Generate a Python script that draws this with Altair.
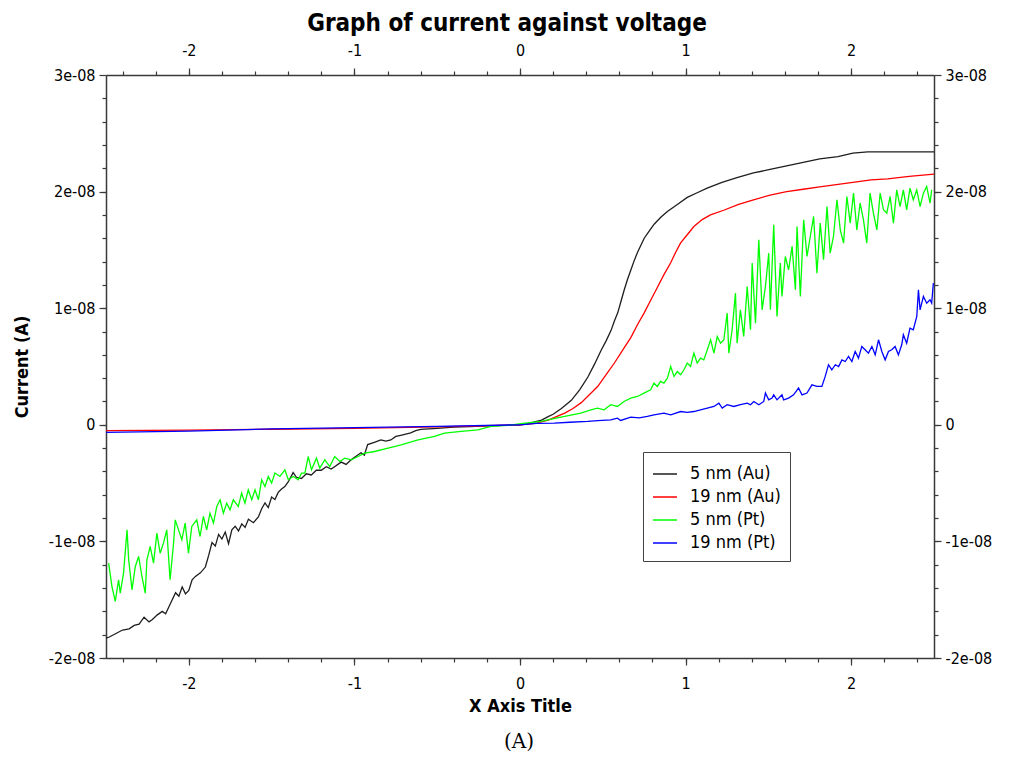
import altair as alt
import pandas as pd

# ---------------- data (voltage V, current in units of 1e-8 A) ----------------
au_5nm = [
    (-2.50, -1.83), (-2.48, -1.82), (-2.44, -1.79), (-2.40, -1.76), (-2.36, -1.75), (-2.33, -1.72),
    (-2.30, -1.71), (-2.27, -1.65), (-2.24, -1.69), (-2.22, -1.67), (-2.19, -1.63), (-2.16, -1.60),
    (-2.14, -1.62), (-2.12, -1.56), (-2.10, -1.50), (-2.08, -1.44), (-2.06, -1.47), (-2.04, -1.39),
    (-2.02, -1.45), (-2.00, -1.42), (-1.98, -1.33), (-1.96, -1.30), (-1.93, -1.27), (-1.90, -1.22),
    (-1.88, -1.12), (-1.86, -1.01), (-1.84, -1.04), (-1.82, -0.94), (-1.80, -0.98), (-1.78, -0.92),
    (-1.76, -1.02), (-1.74, -0.90), (-1.72, -0.87), (-1.70, -0.91), (-1.68, -0.85), (-1.66, -0.88),
    (-1.64, -0.81), (-1.61, -0.84), (-1.58, -0.79), (-1.56, -0.72), (-1.54, -0.67), (-1.52, -0.71),
    (-1.50, -0.62), (-1.48, -0.64), (-1.46, -0.58), (-1.44, -0.55), (-1.42, -0.53), (-1.40, -0.49),
    (-1.37, -0.41), (-1.35, -0.45), (-1.32, -0.46), (-1.29, -0.42), (-1.26, -0.43), (-1.23, -0.39),
    (-1.20, -0.39), (-1.17, -0.36), (-1.14, -0.38), (-1.12, -0.36), (-1.08, -0.32), (-1.05, -0.34),
    (-1.02, -0.30), (-0.99, -0.27), (-0.96, -0.24), (-0.94, -0.26), (-0.92, -0.17), (-0.88, -0.15),
    (-0.84, -0.13), (-0.81, -0.14), (-0.78, -0.13), (-0.75, -0.10), (-0.72, -0.09), (-0.69, -0.08),
    (-0.66, -0.07), (-0.63, -0.05), (-0.60, -0.04), (-0.50, -0.03), (-0.40, -0.02), (-0.30, -0.015),
    (-0.20, -0.01), (-0.10, -0.005), (0.00, 0.00),
    (0.05, 0.01), (0.10, 0.03), (0.13, 0.04), (0.17, 0.07), (0.20, 0.09), (0.25, 0.14), (0.31, 0.21),
    (0.36, 0.30), (0.41, 0.41), (0.45, 0.52), (0.49, 0.64), (0.52, 0.72), (0.55, 0.81), (0.57, 0.89),
    (0.59, 0.96), (0.61, 1.06), (0.63, 1.16), (0.65, 1.25), (0.67, 1.33), (0.69, 1.41), (0.71, 1.48),
    (0.73, 1.54), (0.75, 1.60), (0.78, 1.66), (0.81, 1.72), (0.85, 1.78), (0.89, 1.83), (0.95, 1.89),
    (1.01, 1.95), (1.07, 1.99), (1.13, 2.03), (1.22, 2.08), (1.31, 2.12), (1.41, 2.16), (1.51, 2.19),
    (1.61, 2.22), (1.71, 2.25), (1.81, 2.28), (1.92, 2.30), (2.01, 2.33), (2.10, 2.34), (2.22, 2.34),
    (2.35, 2.34), (2.50, 2.34),
]

au_19nm = [
    (-2.50, -0.05), (-2.00, -0.045), (-1.50, -0.038), (-1.00, -0.03), (-0.50, -0.018), (-0.20, -0.008),
    (0.00, 0.00), (0.05, 0.005), (0.10, 0.015), (0.17, 0.04), (0.22, 0.07), (0.27, 0.10), (0.32, 0.14),
    (0.37, 0.19), (0.42, 0.26), (0.47, 0.33), (0.52, 0.43), (0.57, 0.53), (0.62, 0.64), (0.67, 0.75),
    (0.71, 0.86), (0.75, 0.96), (0.79, 1.07), (0.83, 1.18), (0.87, 1.29), (0.91, 1.39), (0.94, 1.48),
    (0.97, 1.56), (1.01, 1.63), (1.05, 1.70), (1.10, 1.76), (1.15, 1.80), (1.23, 1.84), (1.32, 1.89),
    (1.41, 1.93), (1.51, 1.97), (1.61, 2.00), (1.71, 2.02), (1.81, 2.04), (1.91, 2.06), (2.01, 2.08),
    (2.12, 2.10), (2.22, 2.11), (2.35, 2.13), (2.50, 2.15),
]

pt_5nm = [
    (-2.484, -1.186), (-2.464, -1.387), (-2.444, -1.515), (-2.424, -1.329), (-2.414, -1.444),
    (-2.394, -1.272), (-2.373, -0.901), (-2.363, -1.158), (-2.343, -1.415), (-2.323, -1.215),
    (-2.303, -1.129), (-2.283, -1.301), (-2.263, -1.444), (-2.253, -1.158), (-2.233, -1.044),
    (-2.213, -1.186), (-2.193, -0.929), (-2.173, -1.101), (-2.153, -1.015), (-2.133, -0.901),
    (-2.113, -1.329), (-2.092, -1.015), (-2.082, -0.815), (-2.062, -0.901), (-2.042, -0.986),
    (-2.022, -0.843), (-2.002, -1.101), (-1.982, -0.872), (-1.952, -0.815), (-1.932, -0.958),
    (-1.912, -0.786), (-1.892, -0.901), (-1.872, -0.758), (-1.851, -0.843), (-1.831, -0.701),
    (-1.811, -0.643), (-1.791, -0.758), (-1.771, -0.672), (-1.751, -0.729), (-1.731, -0.643),
    (-1.701, -0.701), (-1.681, -0.586), (-1.661, -0.672), (-1.641, -0.557), (-1.620, -0.643),
    (-1.600, -0.557), (-1.580, -0.643), (-1.560, -0.472), (-1.540, -0.529), (-1.520, -0.443),
    (-1.500, -0.500), (-1.480, -0.414), (-1.450, -0.443), (-1.420, -0.386), (-1.399, -0.472),
    (-1.369, -0.443), (-1.339, -0.472), (-1.319, -0.414), (-1.299, -0.414), (-1.279, -0.272),
    (-1.259, -0.386), (-1.229, -0.286), (-1.209, -0.372), (-1.179, -0.300), (-1.149, -0.358),
    (-1.119, -0.272), (-1.088, -0.315), (-1.058, -0.286), (-1.018, -0.300), (-0.978, -0.272),
    (-0.938, -0.243), (-0.878, -0.229), (-0.797, -0.200), (-0.717, -0.172), (-0.616, -0.129),
    (-0.516, -0.100), (-0.456, -0.071), (-0.355, -0.057), (-0.255, -0.043), (-0.175, -0.014),
    (-0.074, -0.005), (0.006, 0.009), (0.127, 0.029), (0.247, 0.066), (0.367, 0.100), (0.428, 0.129),
    (0.468, 0.143), (0.508, 0.129), (0.548, 0.172), (0.588, 0.157), (0.628, 0.200), (0.669, 0.229),
    (0.709, 0.243), (0.749, 0.272), (0.789, 0.300), (0.809, 0.357), (0.829, 0.329), (0.849, 0.372),
    (0.869, 0.357), (0.890, 0.400), (0.910, 0.500), (0.930, 0.415), (0.950, 0.457), (0.970, 0.429),
    (0.990, 0.472), (1.010, 0.529), (1.030, 0.500), (1.050, 0.615), (1.070, 0.529), (1.090, 0.572),
    (1.110, 0.557), (1.131, 0.643), (1.151, 0.729), (1.171, 0.615), (1.191, 0.757), (1.211, 0.700),
    (1.231, 0.729), (1.251, 0.958), (1.261, 0.615), (1.281, 0.815), (1.301, 1.129), (1.311, 0.700),
    (1.331, 0.986), (1.351, 0.758), (1.372, 1.186), (1.392, 0.815), (1.402, 1.387), (1.422, 0.872),
    (1.442, 1.587), (1.462, 0.986), (1.482, 1.186), (1.502, 1.472), (1.512, 0.986), (1.532, 1.715),
    (1.552, 0.929), (1.572, 1.387), (1.582, 1.101), (1.602, 1.444), (1.622, 1.329), (1.643, 1.530),
    (1.663, 1.158), (1.673, 1.701), (1.693, 1.101), (1.713, 1.758), (1.733, 1.444), (1.753, 1.615),
    (1.773, 1.787), (1.793, 1.301), (1.813, 1.730), (1.833, 1.415), (1.854, 1.872), (1.873, 1.472),
    (1.893, 1.615), (1.914, 1.930), (1.934, 1.672), (1.954, 1.558), (1.974, 1.958), (1.994, 1.730),
    (2.014, 1.987), (2.034, 1.672), (2.054, 1.901), (2.074, 1.758), (2.094, 1.558), (2.114, 1.987),
    (2.134, 1.815), (2.155, 1.672), (2.175, 1.987), (2.195, 1.844), (2.215, 1.815), (2.235, 1.958),
    (2.255, 1.730), (2.275, 2.015), (2.295, 1.872), (2.315, 2.015), (2.335, 1.844), (2.355, 2.030),
    (2.375, 1.930), (2.396, 2.015), (2.416, 1.872), (2.436, 1.987), (2.456, 2.044), (2.476, 1.901),
    (2.486, 2.015),
]

pt_19nm = [
    (-2.50, -0.065), (-2.00, -0.055), (-1.50, -0.035), (-1.00, -0.025), (-0.50, -0.013), (0.00, 0.00),
    (0.10, 0.012), (0.207, 0.014), (0.30, 0.022), (0.408, 0.029), (0.47, 0.035), (0.548, 0.043),
    (0.588, 0.057), (0.608, 0.037), (0.669, 0.066), (0.72, 0.060), (0.769, 0.072), (0.809, 0.086),
    (0.869, 0.100), (0.910, 0.086), (0.970, 0.114), (1.010, 0.106), (1.050, 0.114), (1.090, 0.129),
    (1.131, 0.143), (1.171, 0.157), (1.201, 0.186), (1.221, 0.143), (1.251, 0.172), (1.291, 0.157),
    (1.331, 0.172), (1.372, 0.186), (1.392, 0.172), (1.412, 0.200), (1.442, 0.172), (1.472, 0.200),
    (1.482, 0.272), (1.502, 0.214), (1.522, 0.229), (1.532, 0.257), (1.552, 0.214), (1.582, 0.257),
    (1.592, 0.214), (1.622, 0.229), (1.652, 0.257), (1.682, 0.315), (1.703, 0.257), (1.733, 0.272),
    (1.763, 0.343), (1.793, 0.329), (1.823, 0.329), (1.843, 0.415), (1.863, 0.515), (1.883, 0.472),
    (1.904, 0.515), (1.924, 0.500), (1.944, 0.557), (1.964, 0.543), (1.984, 0.586), (2.004, 0.543),
    (2.024, 0.629), (2.044, 0.572), (2.064, 0.672), (2.084, 0.643), (2.104, 0.615), (2.125, 0.672),
    (2.145, 0.600), (2.165, 0.729), (2.185, 0.629), (2.205, 0.557), (2.225, 0.629), (2.245, 0.643),
    (2.265, 0.672), (2.285, 0.600), (2.305, 0.686), (2.315, 0.772), (2.335, 0.700), (2.355, 0.829),
    (2.375, 0.815), (2.396, 0.929), (2.406, 1.158), (2.416, 0.986), (2.436, 1.101), (2.456, 1.043),
    (2.476, 1.072), (2.486, 1.043), (2.496, 1.215),
]

series_names = ["5 nm (Au)", "19 nm (Au)", "5 nm (Pt)", "19 nm (Pt)"]
series_colors = ["#1e1e1e", "#ff0000", "#00ff00", "#0000ff"]
series_data = [au_5nm, au_19nm, pt_5nm, pt_19nm]

x_major_ticks = [-2, -1, 0, 1, 2]
x_minor_ticks = [-2.4, -2.2, -2.0, -1.8, -1.6, -1.4, -1.2, -1.0, -0.8, -0.6, -0.4, -0.2, 0.0,
                 0.2, 0.4, 0.6, 0.8, 1.0, 1.2, 1.4, 1.6, 1.8, 2.0, 2.2, 2.4]
y_major_ticks = [-2e-08, -1e-08, 0, 1e-08, 2e-08, 3e-08]
y_minor_ticks = [k * 2e-09 for k in range(-10, 16)]

rows = []
for name, pts in zip(series_names, series_data):
    for k, (v, c) in enumerate(pts):
        rows.append({"series": name, "voltage": v, "current": c * 1e-08, "idx": k})
df = pd.DataFrame(rows)

FONT = "DejaVu Sans Condensed"
AXC = "#3a3a3a"

x_scale = alt.Scale(domain=[-2.5, 2.5], nice=False, zero=False)
y_scale = alt.Scale(domain=[-2e-08, 3e-08], nice=False, zero=False)

x_label_expr = "(datum.value < 0 ? '-' : '') + format(abs(datum.value), 'd')"
y_label_expr = ("datum.value == 0 ? '0' : ((datum.value < 0 ? '-' : '') + "
                "format(abs(datum.value) * 1e8, 'd') + 'e-08')")


def x_axis(orient, major, title=None):
    common = dict(orient=orient, grid=False, domainColor=AXC, tickColor=AXC, domainWidth=1.5,
                  tickWidth=1.2)
    if major:
        ax = alt.Axis(values=x_major_ticks, tickSize=7, labelExpr=x_label_expr, labelFont=FONT,
                      labelFontSize=16, labelColor="#000000", labelPadding=10, domain=True,
                      title=title, titleFont=FONT, titleFontSize=18, titleFontWeight="bold",
                      titleColor="#000000", titlePadding=6, **common)
    else:
        ax = alt.Axis(values=x_minor_ticks, tickSize=4, labels=False, domain=False, title=None,
                      **common)
    return ax


def y_axis(orient, major, title=None):
    common = dict(orient=orient, grid=False, domainColor=AXC, tickColor=AXC, domainWidth=1.5,
                  tickWidth=1.2)
    if major:
        ax = alt.Axis(values=y_major_ticks, tickSize=7, labelExpr=y_label_expr, labelFont=FONT,
                      labelFontSize=16, labelColor="#000000", labelPadding=4, domain=True,
                      title=title, titleFont=FONT, titleFontSize=18, titleFontWeight="bold",
                      titleColor="#000000", titlePadding=17, **common)
    else:
        ax = alt.Axis(values=y_minor_ticks, tickSize=4, labels=False, domain=False, title=None,
                      **common)
    return ax


lines = alt.Chart(df).mark_line(strokeWidth=1.3).encode(
    x=alt.X("voltage:Q", scale=x_scale, axis=x_axis("bottom", True, "X Axis Title")),
    y=alt.Y("current:Q", scale=y_scale, axis=y_axis("left", True, "Current (A)")),
    color=alt.Color(
        "series:N",
        scale=alt.Scale(domain=series_names, range=series_colors),
        sort=series_names,
        legend=alt.Legend(
            title=None, orient="none", legendX=537, legendY=377, symbolType="stroke",
            symbolSize=576, symbolStrokeWidth=1.5, labelFont=FONT, labelFontSize=18,
            labelColor="#000000", labelOffset=12, strokeColor="#444444", fillColor="#ffffff",
            padding=9, rowPadding=1,
        ),
    ),
    order=alt.Order("idx:Q"),
)


def ghost(xax, yax):
    return alt.Chart(df).mark_line(opacity=0).encode(
        x=alt.X("voltage:Q", scale=x_scale, axis=xax),
        y=alt.Y("current:Q", scale=y_scale, axis=yax),
        detail="series:N",
    )


top_right_major = ghost(x_axis("top", True), y_axis("right", True))
bottom_left_minor = ghost(x_axis("bottom", False), y_axis("left", False))
top_right_minor = ghost(x_axis("top", False), y_axis("right", False))

caption = alt.Chart(pd.DataFrame({"c": ["(A)"]})).mark_text(
    font="DejaVu Serif", fontSize=20, color="#000000", align="center", baseline="middle"
).encode(x=alt.value(413), y=alt.value(667), text="c:N")

chart = alt.layer(
    lines, top_right_major, bottom_left_minor, top_right_minor, caption
).resolve_axis(
    x="independent", y="independent"
).properties(
    width=828,
    height=583,
    title=alt.TitleParams("Graph of current against voltage", font=FONT, fontSize=24,
                          fontWeight="bold", color="#000000", anchor="middle", offset=6,
                          dx=-13),
    autosize=alt.AutoSizeParams(type="none"),
    padding={"left": 106, "top": 75, "right": 76, "bottom": 100},
).configure_view(strokeWidth=0).configure(background="#ffffff")

chart.save("out.html", embed_options={"renderer": "svg", "actions": False})
